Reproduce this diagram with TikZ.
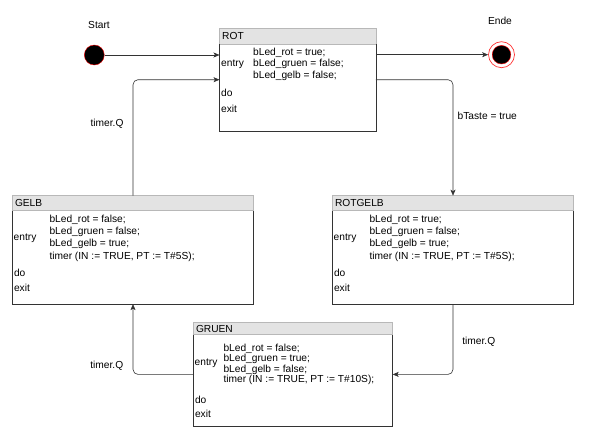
\documentclass[tikz,border=0pt]{standalone}
\usepackage{fontspec}
\setmainfont{Liberation Sans}
\usetikzlibrary{calc}
\usetikzlibrary{arrows.meta}

\tikzset{
    zustand/.style={anchor=north west, inner sep=0pt},
    rahmen/.style={draw=black!80, line width=0.6pt},
    kopf/.style={fill=black!11, draw=black!28, line width=0.6pt},
    txt/.style={anchor=west, inner sep=0pt, align=left},
    pfeil/.style={draw=black!80, line width=0.6pt, rounded corners=5pt,
        -{Stealth[length=6pt,width=5pt,inset=1.5pt]}},
    startpunkt/.style={circle, fill=black, draw=red, line width=0.4pt, inner sep=0pt, minimum size=20pt},
    endpunkt/.style={circle, fill=white, draw=red!80, line width=0.7pt, inner sep=0pt, minimum size=26pt},
}

\begin{document}
\begin{tikzpicture}[x=1pt, y=-1pt, font=\fontsize{10.2}{12}\selectfont]
    \useasboundingbox (0,0) rectangle (589,439);
    % Zustaende
    \node[zustand, minimum width=156pt, minimum height=103pt] (rot) at (219.5,28) {};
    \node[zustand, minimum width=241pt, minimum height=108pt] (gelb) at (12.3,195.7) {};
    \node[zustand, minimum width=241pt, minimum height=108pt] (rotgelb) at (332.3,195.7) {};
    \node[zustand, minimum width=199pt, minimum height=103pt] (gruen) at (193.3,322.7) {};
    \foreach \z/\n/\k in {rot/ROT/16, gelb/GELB/15, rotgelb/ROTGELB/15, gruen/GRUEN/12} {
        \draw[kopf] (\z.north west) rectangle ($(\z.north east)+(0,\k)$);
        \draw[rahmen] ($(\z.north west)+(0,\k)$) |- (\z.south east) -- ($(\z.north east)+(0,\k)$);
        \node[txt] (\z-titel) at ($(\z.north west)+(2.5,\k/2)$) {\n};
    }
    \foreach \z/\d/\e in {rot/39/23, gelb/31.7/16.3, rotgelb/31.7/16.3, gruen/26.7/12.4} {
        \node[txt] (\z-do) at ($(\z.south west)+(1.5,-\d)$) {do};
        \node[txt] (\z-exit) at ($(\z.south west)+(1.5,-\e)$) {exit};
    }
    % entry
    \node[txt] (rot-entry) at (221,64) {entry};
    \node[txt, font=\fontsize{10.2}{11.5}\selectfont] (rot-werte) at (253,64)
        {bLed\_rot = true;\\bLed\_gruen = false;\\bLed\_gelb = false;};
    \node[txt] (gelb-entry) at (13.5,238) {entry};
    \node[txt, font=\fontsize{10.2}{12.4}\selectfont] (gelb-werte) at (49.3,238)
        {bLed\_rot = false;\\bLed\_gruen = false;\\bLed\_gelb = true;\\timer (IN := TRUE, PT := T\#5S);};
    \node[txt] (rotgelb-entry) at (333.5,238) {entry};
    \node[txt, font=\fontsize{10.2}{12.4}\selectfont] (rotgelb-werte) at (369.3,238)
        {bLed\_rot = true;\\bLed\_gruen = false;\\bLed\_gelb = true;\\timer (IN := TRUE, PT := T\#5S);};
    \node[txt] (gruen-entry) at (194.5,363.3) {entry};
    \node[txt, font=\fontsize{10.2}{10.3}\selectfont] (gruen-werte) at (223.3,364.5)
        {bLed\_rot = false;\\bLed\_gruen = true;\\bLed\_gelb = false;\\timer (IN := TRUE, PT := T\#10S);};
    % Start und Ende
    \node[startpunkt] (start) at (94.3,55) {};
    \node[endpunkt] (ende) at (501.5,54.7) {};
    \node[startpunkt, minimum size=18.6pt] (ende-kern) at (ende) {};
    \node (start-text) at (99,25) {Start};
    \node (ende-text) at (500,21) {Ende};
    % Uebergaenge
    \draw[pfeil] (start) -- (start -| rot.west);
    \draw[pfeil] (rot.east |- ende) -- (ende);
    \draw[pfeil] (rot.east) -| (rotgelb.north);
    \draw[pfeil] (rotgelb.south) |- (gruen.east);
    \draw[pfeil] (gruen.west) -| (gelb.south);
    \draw[pfeil] (gelb.north) |- (rot.west);
    \node (l-rot-rotgelb) at (487.3,116) {bTaste = true};
    \node (l-rotgelb-gruen) at (478.8,341.7) {timer.Q};
    \node (l-gruen-gelb) at (106.8,366) {timer.Q};
    \node (l-gelb-rot) at (107,124) {timer.Q};
\end{tikzpicture}
\end{document}
